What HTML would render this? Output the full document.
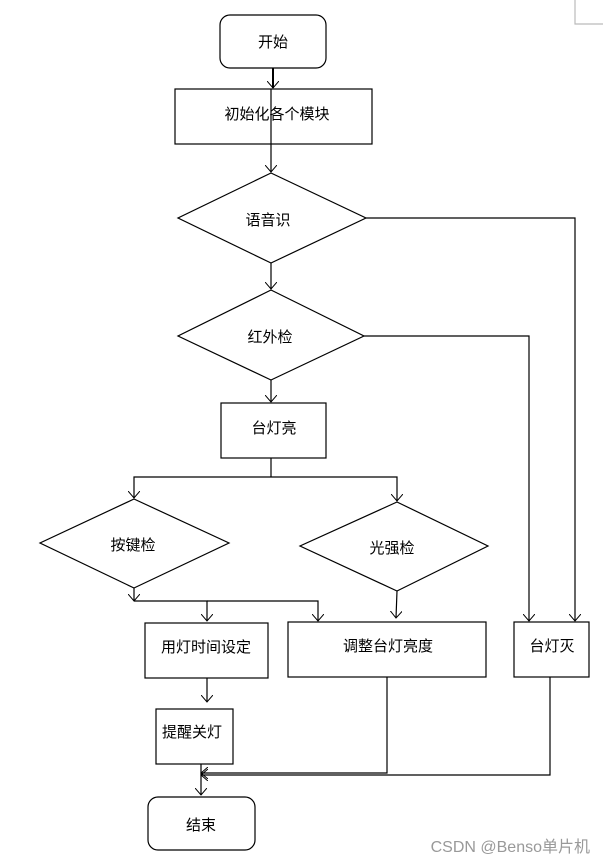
<!DOCTYPE html>
<html><head><meta charset="utf-8"><style>
html,body{margin:0;padding:0;background:#fff;width:603px;height:864px;overflow:hidden}
text{font-family:"Liberation Sans","Noto Sans CJK SC",sans-serif;font-size:15px;fill:#000}
</style></head><body>
<svg width="603" height="864" viewBox="0 0 603 864" xmlns="http://www.w3.org/2000/svg">
<defs><marker id="a" markerWidth="12" markerHeight="12" refX="7" refY="6" orient="auto" markerUnits="userSpaceOnUse"><path d="M0,0 L7,6 L0,12" fill="none" stroke="#000" stroke-width="1"/></marker></defs>
<g fill="none" stroke="#000" stroke-width="1.2">
<path d="M575,0 V24 H603" stroke="#bbb"/>
<rect x="220" y="15" width="106" height="53" rx="10"/>
<rect x="175" y="89" width="197" height="55"/>
<polygon points="271,173 366,218 271,263 178,218"/>
<polygon points="271,290 364,336 271,380 178,336"/>
<rect x="221" y="403" width="105" height="55"/>
<polygon points="134,499 229,543 134,588 40,543"/>
<polygon points="397,502 488,546 397,591 300,546"/>
<rect x="145" y="623" width="123" height="55"/>
<rect x="288" y="622" width="198" height="55"/>
<rect x="514" y="622" width="75" height="55"/>
<rect x="156" y="709" width="77" height="55"/>
<rect x="148" y="797" width="107" height="53" rx="10"/>
<path d="M273,68 V88" marker-end="url(#a)" stroke-width="2"/>
<path d="M271,89 V172" marker-end="url(#a)"/>
<path d="M271,263 V289" marker-end="url(#a)"/>
<path d="M271,380 V402" marker-end="url(#a)"/>
<path d="M366,218 H575 V621" marker-end="url(#a)"/>
<path d="M364,336 H529 V621" marker-end="url(#a)"/>
<path d="M271,458 V477"/>
<path d="M271,477 H134 V498" marker-end="url(#a)"/>
<path d="M271,477 H397 V501" marker-end="url(#a)"/>
<path d="M134,588 V601" marker-end="url(#a)"/>
<path d="M134,601 H207 V621" marker-end="url(#a)"/>
<path d="M207,601 H318 V621" marker-end="url(#a)"/>
<path d="M397,591 L396,618" marker-end="url(#a)"/>
<path d="M207,678 V702" marker-end="url(#a)"/>
<path d="M387,677 V773 H201" marker-end="url(#a)"/>
<path d="M550,677 V775 H201" marker-end="url(#a)"/>
<path d="M201,764 V795" marker-end="url(#a)"/>
</g>
<g text-anchor="middle">
<text x="273" y="47">开始</text>
<text x="277" y="119">初始化各个模块</text>
<text x="268" y="225">语音识</text>
<text x="270" y="342">红外检</text>
<text x="274" y="433">台灯亮</text>
<text x="133" y="550">按键检</text>
<text x="392" y="553">光强检</text>
<text x="206" y="652">用灯时间设定</text>
<text x="388" y="651">调整台灯亮度</text>
<text x="552" y="651">台灯灭</text>
<text x="192" y="737">提醒关灯</text>
<text x="201" y="830">结束</text>
</g>
<text x="590" y="852" text-anchor="end" style="fill:#999;font-size:16px">CSDN @Benso单片机</text>
</svg>
</body></html>
